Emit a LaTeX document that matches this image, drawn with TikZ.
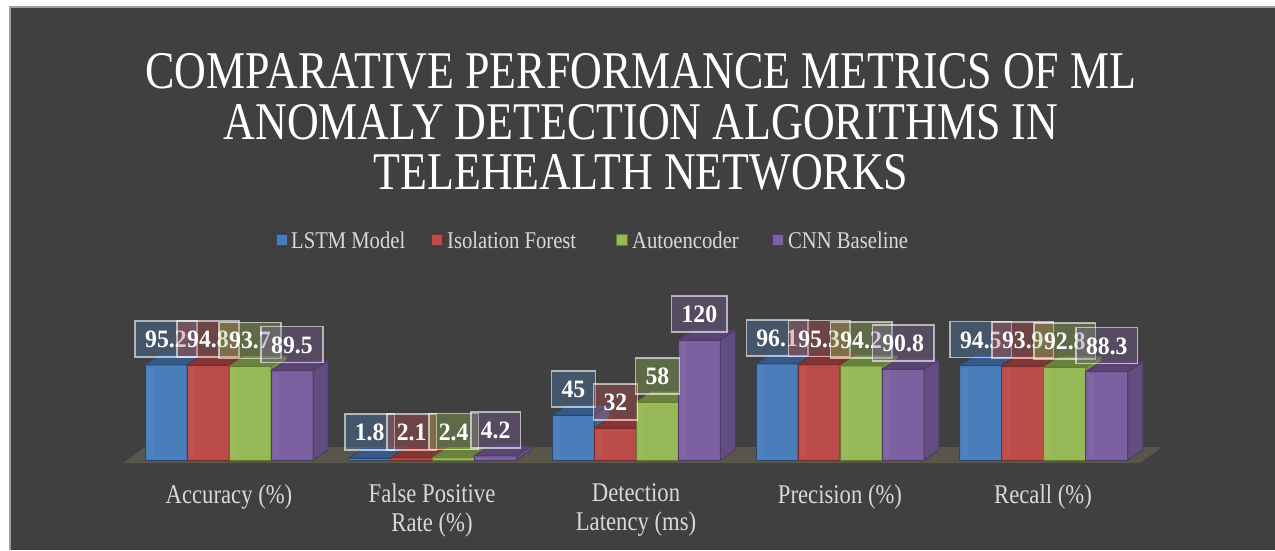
\documentclass[tikz,border=0pt]{standalone}
\usepackage{fontspec}
\setmainfont{Liberation Serif}[FakeStretch=0.84]
\newfontfamily\titlefont{Liberation Serif}[FakeStretch=0.83]
\newfontfamily\legfont{Liberation Serif}[FakeStretch=0.86]
\newfontfamily\lblfont{Liberation Serif}[FakeStretch=0.95]
\usetikzlibrary{calc}
\definecolor{bg}{HTML}{404040}
\definecolor{txtgray}{RGB}{217,217,217}
\definecolor{floorc}{RGB}{88,86,74}
% series colours: f front, s side, t top, o outline, l label
\definecolor{ser0f}{RGB}{74,126,187}\definecolor{ser0s}{RGB}{60,100,150}\definecolor{ser0t}{RGB}{54,90,136}\definecolor{ser0o}{RGB}{42,70,108}\definecolor{ser0l}{RGB}{79,129,189}
\definecolor{ser1f}{RGB}{188,76,73}\definecolor{ser1s}{RGB}{150,60,58}\definecolor{ser1t}{RGB}{132,52,50}\definecolor{ser1o}{RGB}{118,44,42}\definecolor{ser1l}{RGB}{192,80,77}
\definecolor{ser2f}{RGB}{150,184,86}\definecolor{ser2s}{RGB}{120,147,68}\definecolor{ser2t}{RGB}{106,130,60}\definecolor{ser2o}{RGB}{98,122,52}\definecolor{ser2l}{RGB}{155,187,89}
\definecolor{ser3f}{RGB}{124,97,160}\definecolor{ser3s}{RGB}{98,77,128}\definecolor{ser3t}{RGB}{88,69,114}\definecolor{ser3o}{RGB}{78,60,104}\definecolor{ser3l}{RGB}{128,100,162}
\tikzset{
  titletext/.style={text=white, font=\titlefont\fontsize{53}{53}\selectfont, inner sep=0pt, anchor=base, text depth=0pt},
  cattext/.style={text=txtgray, font=\fontsize{27}{27}\selectfont, align=center, inner sep=0pt},
  legtext/.style={text=txtgray, font=\legfont\fontsize{24}{24}\selectfont, inner sep=0pt, anchor=west},
  legsq/.style={minimum size=11pt, inner sep=0pt, line width=1.5pt},
  lbl/.style={draw=white, draw opacity=0.6, fill opacity=0.35, text opacity=1, text=white,
    font=\lblfont\bfseries\fontsize{25}{25}\selectfont, inner xsep=10pt, inner ysep=9.5pt,
    text height=17pt, text depth=0pt, line width=1.5pt},
}
\begin{document}
\begin{tikzpicture}[x=1pt,y=-1pt]
\useasboundingbox (0,0) rectangle (1275,550);
\fill[white] (0,0) rectangle (1275,550);
\fill[bg] (10,7) rectangle (1275,550);
\draw[gray!75, line width=1.5pt] (10,550) -- (10,7) -- (1275,7);
% title
\node[titletext] (t1) at (641,88) {COMPARATIVE PERFORMANCE METRICS OF ML};
\node[titletext] (t2) at (641,139) {ANOMALY DETECTION ALGORITHMS IN};
\node[titletext] (t3) at (641,189) {TELEHEALTH NETWORKS};
% legend
\node[legsq, fill=ser0f, draw=ser0o] (q0) at (282,240) {};
\node[legtext] (n0) at (291,240) {LSTM Model};
\node[legsq, fill=ser1f, draw=ser1o] (q1) at (437,240) {};
\node[legtext] (n1) at (447,240) {Isolation Forest};
\node[legsq, fill=ser2f, draw=ser2o] (q2) at (622,240) {};
\node[legtext] (n2) at (632,240) {Autoencoder};
\node[legsq, fill=ser3f, draw=ser3o] (q3) at (778,240) {};
\node[legtext] (n3) at (788,240) {CNN Baseline};
% floor
\fill[floorc] (123,463) -- (1140,463) -- (1162,447) -- (145,447) -- cycle;
% bars
\foreach \vals [count=\i from 0] in {{95.2,94.8,93.7,89.5},{1.8,2.1,2.4,4.2},{45,32,58,120},{96.1,95.3,94.2,90.8},{94.5,93.9,92.8,88.3}} {
  \foreach \v [count=\j from 0] in \vals {
    \pgfmathsetmacro\xl{145+203.7*\i+42*\j}
    \pgfmathsetmacro\xr{\xl+42}
    \pgfmathsetmacro\yt{460-\v}
    \filldraw[fill=ser\j f, draw=ser\j o, line width=1pt, line join=round] (\xl,460) rectangle (\xr,\yt);
    \filldraw[fill=ser\j f!85!white, draw=none, opacity=0.25] (\xl+2,458) rectangle (\xl+8,\yt+2);
    \filldraw[fill=ser\j t, draw=ser\j o, line width=1pt, line join=round] (\xl,\yt) -- (\xr,\yt) -- (\xr+15,\yt-10) -- (\xl+15,\yt-10) -- cycle;
    \filldraw[fill=ser\j s, draw=ser\j o, line width=1pt, line join=round] (\xr,460) -- (\xr+15,450) -- (\xr+15,\yt-10) -- (\xr,\yt) -- cycle;
  }
}
% data labels
\foreach \vals [count=\i from 0] in {{95.2,94.8,93.7,89.5},{1.8,2.1,2.4,4.2},{45,32,58,120},{96.1,95.3,94.2,90.8},{94.5,93.9,92.8,88.3}} {
  \foreach \v [count=\j from 0] in \vals {
    \pgfmathsetmacro\xc{145+203.7*\i+42*\j+21}
    \pgfmathsetmacro\yc{460-\v-26}
    \node[lbl, fill=ser\j l] (l\i\j) at (\xc,\yc) {\v};
  }
}
% category labels
\node[cattext] (c0) at (229,497) {Accuracy (\%)};
\node[cattext] (c1) at (432,510) {False Positive\\[2pt]Rate (\%)};
\node[cattext] (c2) at (636,510) {Detection\\[2pt]Latency (ms)};
\node[cattext] (c3) at (840,497) {Precision (\%)};
\node[cattext] (c4) at (1043,497) {Recall (\%)};
\end{tikzpicture}
\end{document}
